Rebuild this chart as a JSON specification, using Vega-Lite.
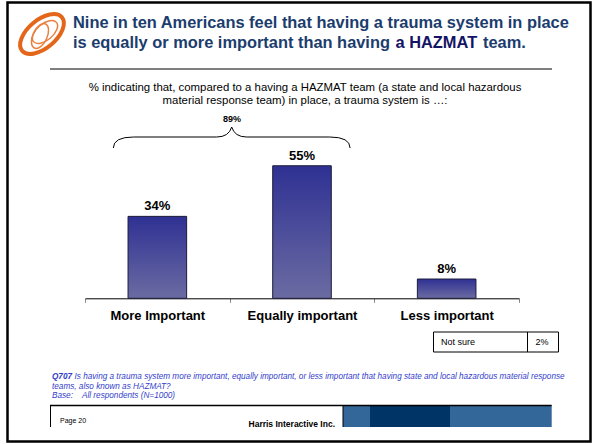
{
  "$schema": "https://vega.github.io/schema/vega-lite/v6.json",
  "width": 595,
  "height": 444,
  "autosize": "none",
  "padding": 0,
  "background": "white",
  "config": {"view": {"stroke": null}, "font": "Liberation Sans", "text": {"font": "Liberation Sans"}},
  "resolve": {"scale": {"x": "independent", "y": "independent"}, "axis": {"x": "independent", "y": "independent"}},
  "layer": [
    {
      "data": {"values": [
        {"category": "More Important", "value": 34, "label": "34%"},
        {"category": "Equally important", "value": 55, "label": "55%"},
        {"category": "Less important", "value": 8, "label": "8%"}
      ]},
      "encoding": {
        "x": {"field": "category", "type": "nominal", "sort": null,
          "scale": {"range": [85, 519], "paddingInner": 0, "paddingOuter": 0},
          "axis": {"title": null, "orient": "bottom", "offset": -145.7, "tickBand": "extent", "labelAngle": 0,
            "labelFontSize": 13, "labelFontWeight": "bold", "labelColor": "#000000", "labelFont": "Liberation Sans",
            "domainColor": "#000000", "domainWidth": 1, "tickColor": "#888888", "tickSize": 4, "tickWidth": 1,
            "labelPadding": 7, "grid": false}},
        "y": {"field": "value", "type": "quantitative", "scale": {"domain": [0, 60], "range": [298.3, 153.7], "nice": false}, "axis": null}
      },
      "layer": [
        {"mark": {"type": "bar", "width": {"band": 0.405}, "stroke": "#1c1c3a", "strokeWidth": 1,
          "fill": {"gradient": "linear", "x1": 0, "y1": 0, "x2": 0, "y2": 1,
            "stops": [{"offset": 0, "color": "#2f3193"}, {"offset": 1, "color": "#6b6ba2"}]}}},
        {"mark": {"type": "text", "dy": -6, "baseline": "alphabetic", "fontWeight": "bold", "fontSize": 13, "color": "#000000"},
          "encoding": {"text": {"field": "label"}}}
      ]
    },
    {
      "layer": [
        {"data": {"values": [{}]},
          "mark": {"type": "point", "shape": "M -1 0 C -1 -0.298 -0.552 -0.54 0 -0.54 C 0.552 -0.54 1 -0.298 1 0 C 1 0.298 0.552 0.54 0 0.54 C -0.552 0.54 -1 0.298 -1 0 Z",
            "filled": false, "stroke": "#e4661a", "strokeWidth": 4, "size": 2704, "angle": -40, "opacity": 1},
          "encoding": {
            "x": {"datum": 42, "type": "quantitative", "scale": {"domain": [0, 595], "range": [0, 595], "nice": false, "zero": false}, "axis": null},
            "y": {"datum": 34, "type": "quantitative", "scale": {"domain": [0, 444], "range": [0, 444], "nice": false, "zero": false}, "axis": null}}},
        {"data": {"values": [{}]},
          "mark": {"type": "point", "shape": "M -1 0 C -1 -0.298 -0.552 -0.54 0 -0.54 C 0.552 -0.54 1 -0.298 1 0 C 1 0.298 0.552 0.54 0 0.54 C -0.552 0.54 -1 0.298 -1 0 Z",
            "filled": false, "stroke": "#e98040", "strokeWidth": 1.5, "size": 900, "angle": -40, "opacity": 1},
          "encoding": {"x": {"datum": 45, "type": "quantitative"}, "y": {"datum": 32, "type": "quantitative"}}},
        {"data": {"values": [{}]},
          "mark": {"type": "point", "shape": "M -1 0 C -1 -0.298 -0.552 -0.54 0 -0.54 C 0.552 -0.54 1 -0.298 1 0 C 1 0.298 0.552 0.54 0 0.54 C -0.552 0.54 -1 0.298 -1 0 Z",
            "filled": false, "stroke": "#e98040", "strokeWidth": 1.5, "size": 700, "angle": -65, "opacity": 1},
          "encoding": {"x": {"datum": 40, "type": "quantitative"}, "y": {"datum": 36, "type": "quantitative"}}},
        {"data": {"values": [{}]},
          "mark": {"type": "text", "align": "left", "baseline": "alphabetic", "fontSize": 16.4, "fontWeight": "bold", "color": "#1b3d6e",
            "text": "Nine in ten Americans feel that having a trauma system in place"},
          "encoding": {"x": {"datum": 73, "type": "quantitative"}, "y": {"datum": 28, "type": "quantitative"}}},
        {"data": {"values": [{}]},
          "mark": {"type": "text", "align": "left", "baseline": "alphabetic", "fontSize": 16.4, "fontWeight": "bold", "color": "#1b3d6e",
            "text": "is equally or more important than having"},
          "encoding": {"x": {"datum": 73, "type": "quantitative"}, "y": {"datum": 48, "type": "quantitative"}}},
        {"data": {"values": [{}]},
          "mark": {"type": "text", "align": "left", "baseline": "alphabetic", "fontSize": 16.4, "fontWeight": "bold", "color": "#141466",
            "text": "a HAZMAT"},
          "encoding": {"x": {"datum": 395.5, "type": "quantitative"}, "y": {"datum": 48, "type": "quantitative"}}},
        {"data": {"values": [{}]},
          "mark": {"type": "text", "align": "left", "baseline": "alphabetic", "fontSize": 16.4, "fontWeight": "bold", "color": "#1b3d6e",
            "text": "team."},
          "encoding": {"x": {"datum": 483, "type": "quantitative"}, "y": {"datum": 48, "type": "quantitative"}}},
        {"data": {"values": [{}]},
          "mark": {"type": "rule", "color": "#000000", "strokeWidth": 1.2},
          "encoding": {"x": {"datum": 50, "type": "quantitative"}, "x2": {"datum": 552}, "y": {"datum": 69, "type": "quantitative"}}},
        {"data": {"values": [{}]},
          "mark": {"type": "text", "align": "center", "baseline": "middle", "fontSize": 11.4, "color": "#000000",
            "text": "% indicating that, compared to a having a HAZMAT team (a state and local hazardous"},
          "encoding": {"x": {"datum": 305, "type": "quantitative"}, "y": {"datum": 88, "type": "quantitative"}}},
        {"data": {"values": [{}]},
          "mark": {"type": "text", "align": "center", "baseline": "middle", "fontSize": 11.4, "color": "#000000",
            "text": "material response team) in place, a trauma system is …:"},
          "encoding": {"x": {"datum": 305, "type": "quantitative"}, "y": {"datum": 101, "type": "quantitative"}}},
        {"data": {"values": [{}]},
          "mark": {"type": "text", "align": "center", "baseline": "middle", "fontSize": 9, "fontWeight": "bold", "color": "#000000",
            "text": "89%"},
          "encoding": {"x": {"datum": 232, "type": "quantitative"}, "y": {"datum": 119, "type": "quantitative"}}},
        {"data": {"values": [{}]},
          "mark": {"type": "point", "shape": "M -0.999 0.093 Q -0.999 0 -0.827 0 L -0.127 0 Q -0.025 0 0 -0.084 Q 0.025 0 0.127 0 L 0.827 0 Q 0.999 0 0.999 0.093",
            "filled": false, "stroke": "#000000", "strokeWidth": 1, "size": 56169, "opacity": 1},
          "encoding": {"x": {"datum": 231.7, "type": "quantitative"}, "y": {"datum": 137, "type": "quantitative"}}},
        {"data": {"values": [{}]},
          "mark": {"type": "rect", "fill": null, "fillOpacity": 0, "stroke": "#000000", "strokeWidth": 1},
          "encoding": {"x": {"datum": 433.5, "type": "quantitative"}, "x2": {"datum": 558.5}, "y": {"datum": 332, "type": "quantitative"}, "y2": {"datum": 352}}},
        {"data": {"values": [{}]},
          "mark": {"type": "rule", "color": "#000000", "strokeWidth": 1},
          "encoding": {"x": {"datum": 527.5, "type": "quantitative"}, "y": {"datum": 332, "type": "quantitative"}, "y2": {"datum": 352}}},
        {"data": {"values": [{}]},
          "mark": {"type": "text", "align": "left", "baseline": "middle", "fontSize": 9, "color": "#000000", "text": "Not sure"},
          "encoding": {"x": {"datum": 441, "type": "quantitative"}, "y": {"datum": 342, "type": "quantitative"}}},
        {"data": {"values": [{}]},
          "mark": {"type": "text", "align": "center", "baseline": "middle", "fontSize": 9, "color": "#000000", "text": "2%"},
          "encoding": {"x": {"datum": 542, "type": "quantitative"}, "y": {"datum": 342, "type": "quantitative"}}},
        {"data": {"values": [{}]},
          "mark": {"type": "text", "align": "left", "baseline": "middle", "fontSize": 8.2, "fontStyle": "italic", "fontWeight": "bold", "color": "#3340cc", "text": "Q707"},
          "encoding": {"x": {"datum": 52, "type": "quantitative"}, "y": {"datum": 377, "type": "quantitative"}}},
        {"data": {"values": [{}]},
          "mark": {"type": "text", "align": "left", "baseline": "middle", "fontSize": 8.2, "fontStyle": "italic", "color": "#3340cc",
            "text": "Is having a trauma system more important, equally important, or less important that having state and local hazardous material response"},
          "encoding": {"x": {"datum": 74.5, "type": "quantitative"}, "y": {"datum": 377, "type": "quantitative"}}},
        {"data": {"values": [{}]},
          "mark": {"type": "text", "align": "left", "baseline": "middle", "fontSize": 8.2, "fontStyle": "italic", "color": "#3340cc",
            "text": "teams, also known as HAZMAT?"},
          "encoding": {"x": {"datum": 52, "type": "quantitative"}, "y": {"datum": 387, "type": "quantitative"}}},
        {"data": {"values": [{}]},
          "mark": {"type": "text", "align": "left", "baseline": "middle", "fontSize": 8.2, "fontStyle": "italic", "color": "#3340cc",
            "text": "Base:"},
          "encoding": {"x": {"datum": 52, "type": "quantitative"}, "y": {"datum": 396, "type": "quantitative"}}},
        {"data": {"values": [{}]},
          "mark": {"type": "text", "align": "left", "baseline": "middle", "fontSize": 8.2, "fontStyle": "italic", "color": "#3340cc",
            "text": "All respondents (N=1000)"},
          "encoding": {"x": {"datum": 82, "type": "quantitative"}, "y": {"datum": 396, "type": "quantitative"}}},
        {"data": {"values": [{}]},
          "mark": {"type": "rect", "fill": "#336699"},
          "encoding": {"x": {"datum": 343, "type": "quantitative"}, "x2": {"datum": 370}, "y": {"datum": 405.7, "type": "quantitative"}, "y2": {"datum": 427}}},
        {"data": {"values": [{}]},
          "mark": {"type": "rect", "fill": "#003366"},
          "encoding": {"x": {"datum": 370, "type": "quantitative"}, "x2": {"datum": 450}, "y": {"datum": 405.7, "type": "quantitative"}, "y2": {"datum": 427}}},
        {"data": {"values": [{}]},
          "mark": {"type": "rect", "fill": "#336699"},
          "encoding": {"x": {"datum": 450, "type": "quantitative"}, "x2": {"datum": 551.7}, "y": {"datum": 405.7, "type": "quantitative"}, "y2": {"datum": 427}}},
        {"data": {"values": [{}]},
          "mark": {"type": "rule", "color": "#000000", "strokeWidth": 1.5},
          "encoding": {"x": {"datum": 50, "type": "quantitative"}, "x2": {"datum": 551.7}, "y": {"datum": 405.5, "type": "quantitative"}}},
        {"data": {"values": [{}]},
          "mark": {"type": "rule", "color": "#000000", "strokeWidth": 1},
          "encoding": {"x": {"datum": 50.5, "type": "quantitative"}, "y": {"datum": 405.5, "type": "quantitative"}, "y2": {"datum": 427}}},
        {"data": {"values": [{}]},
          "mark": {"type": "rule", "color": "#000000", "strokeWidth": 1},
          "encoding": {"x": {"datum": 343, "type": "quantitative"}, "y": {"datum": 405.5, "type": "quantitative"}, "y2": {"datum": 427}}},
        {"data": {"values": [{}]},
          "mark": {"type": "text", "align": "left", "baseline": "middle", "fontSize": 7, "color": "#000000", "text": "Page 20"},
          "encoding": {"x": {"datum": 60, "type": "quantitative"}, "y": {"datum": 421, "type": "quantitative"}}},
        {"data": {"values": [{}]},
          "mark": {"type": "text", "align": "right", "baseline": "middle", "fontSize": 8.5, "fontWeight": "bold", "color": "#000000", "text": "Harris Interactive Inc."},
          "encoding": {"x": {"datum": 335, "type": "quantitative"}, "y": {"datum": 424, "type": "quantitative"}}},
        {"data": {"values": [{}]},
          "mark": {"type": "rect", "fill": null, "fillOpacity": 0, "stroke": "#000000", "strokeWidth": 2.5},
          "encoding": {"x": {"datum": 7.5, "type": "quantitative"}, "x2": {"datum": 590.5}, "y": {"datum": 2.5, "type": "quantitative"}, "y2": {"datum": 441.5}}}
      ]
    }
  ]
}
